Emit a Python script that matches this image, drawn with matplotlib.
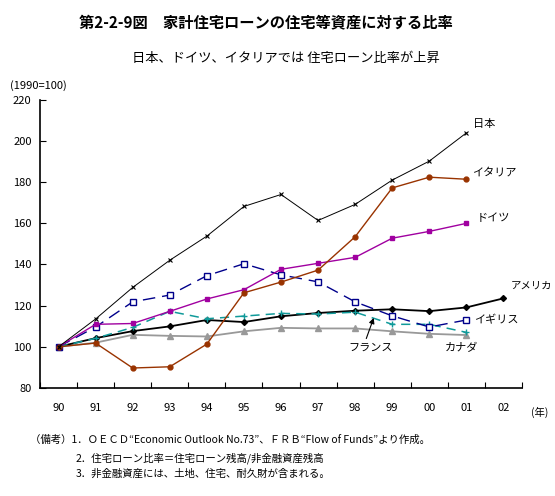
import matplotlib as mpl
mpl.use('agg')
import matplotlib.pyplot as plt
import numpy as np

plt.rcParams['font.family'] = ['Noto Sans CJK JP', 'DejaVu Sans']

# 1990=100
years = ['90', '91', '92', '93', '94', '95', '96', '97', '98', '99', '00', '01', '02']

japan   = [100, 113.5, 128.8, 142.0, 153.7, 168.1, 173.9, 161.3, 169.1, 180.9, 190.1, 203.8]
italy   = [100, 101.8,  89.7,  90.3, 101.3, 126.2, 131.4, 137.2, 153.4, 177.1, 182.3, 181.3]
germany = [100, 110.9, 111.3, 117.2, 123.2, 127.7, 137.6, 140.5, 143.4, 152.7, 156.0, 159.9]
uk      = [100, 109.6, 121.8, 125.1, 134.5, 140.3, 134.9, 131.5, 121.8, 115.0, 109.6, 113.0]
usa     = [100, 104.2, 107.6, 109.9, 113.0, 112.0, 114.8, 116.4, 117.5, 118.2, 117.3, 119.1, 123.5]
france  = [100, 104.1, 109.4, 117.2, 113.6, 114.9, 116.2, 115.9, 116.8, 110.9, 110.9, 107.0]
canada  = [100, 102.0, 105.8, 105.3, 105.0, 107.5, 109.2, 108.9, 108.9, 107.5, 106.3, 105.7]

fig = plt.figure(figsize=(5.55, 4.96), dpi=100)
ax = fig.add_axes([40/555, 1-388/496, 482/555, 288.5/496])

x = np.arange(len(years))

def line(vals, **kw):
	ax.plot(x[:len(vals)], vals, **kw)

line(canada, color='#999999', lw=1.3, marker='^', ms=4)
line(usa, color='black', lw=1.3, marker='D', ms=3)
line(france, color='#109a9a', lw=1.1, dashes=(6, 4), marker='+', ms=5, mew=1)
line(uk, color='#00008b', lw=1.0, dashes=(9, 5), marker='s', ms=4, mfc='white', mew=1)
line(germany, color='#a000a0', lw=1.0, marker='s', ms=3)
line(italy, color='#993300', lw=1.0, marker='o', ms=3.5)
line(japan, color='black', lw=0.7, marker='x', ms=3, mew=0.8)

ax.set_xlim(-0.5, len(years) - 0.5)
ax.set_ylim(80, 220)
ax.set_yticks(np.arange(80, 221, 20))
ax.set_xticks(np.arange(-0.5, len(years), 1))
ax.set_xticklabels([])
ax.set_xticks(x, minor=True)
ax.set_xticklabels(years, minor=True)
ax.tick_params(axis='x', which='major', direction='in', length=4)
ax.tick_params(axis='x', which='minor', length=0, pad=11, labelsize=8)
ax.tick_params(axis='y', direction='in', length=4, pad=6, labelsize=8)
for s in ['top', 'right']:
	ax.spines[s].set_visible(False)
ax.spines['left'].set_linewidth(1.2)
ax.spines['bottom'].set_linewidth(1.2)

# series labels
lab = dict(fontsize=8, va='center')
ax.text(11.18, 208, '日本', **lab)
ax.text(11.15, 184.5, 'イタリア', **lab)
ax.text(11.29, 162.4, 'ドイツ', **lab)
ax.text(12.2, 129.5, 'アメリカ', fontsize=7.5, va='center')
ax.text(11.2, 113, 'イギリス', **lab)
ax.text(10.86, 99.5, 'カナダ', ha='center', **lab)
ax.text(8.42, 99.5, 'フランス', ha='center', **lab)
ax.annotate('', xy=(8.5, 114.0), xytext=(8.3, 104.0),
	arrowprops=dict(arrowstyle='-|>', color='black', lw=0.8,
	mutation_scale=8, shrinkA=0, shrinkB=0))

fig.text(10/555, 1-86/496, '(1990=100)', fontsize=8, va='center')
fig.text(540/555, 1-412/496, '(年)', fontsize=7.5, va='center', ha='center')

fig.text(266/555, 1-22/496, '第2-2-9図　家計住宅ローンの住宅等資産に対する比率',
	fontsize=11, fontweight='bold', ha='center', va='center')
fig.text(286/555, 1-58/496, '日本、ドイツ、イタリアでは 住宅ローン比率が上昇',
	fontsize=9.5, ha='center', va='center')

notes = dict(fontsize=7.5, va='center')
fig.text(30/555, 1-440/496, '（備考）1．ＯＥＣＤ“Economic Outlook No.73”、ＦＲＢ“Flow of Funds”より作成。', **notes)
fig.text(76/555, 1-458/496, '2．住宅ローン比率＝住宅ローン残高/非金融資産残高', **notes)
fig.text(76/555, 1-474/496, '3．非金融資産には、土地、住宅、耐久財が含まれる。', **notes)

fig.savefig('out.png', dpi=100)
